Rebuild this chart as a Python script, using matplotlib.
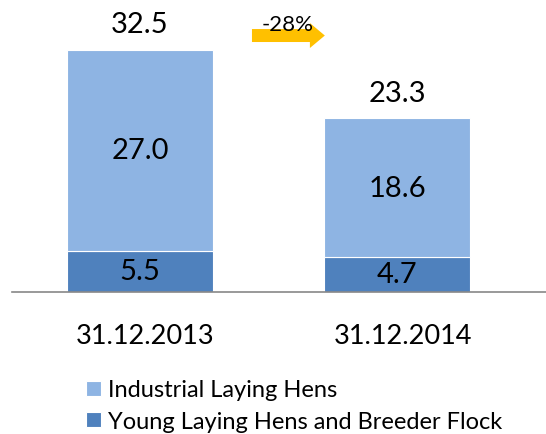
import matplotlib
matplotlib.use("Agg")
import matplotlib.pyplot as plt
from matplotlib.patches import FancyArrow

# ── data ──────────────────────────────────────────────────────────────────────
categories = ["31.12.2013", "31.12.2014"]
young      = [5.5, 4.7]     # Young Laying Hens and Breeder Flock
industrial = [27.0, 18.6]   # Industrial Laying Hens
totals     = [32.5, 23.3]
change_lbl = "-28%"

C_LIGHT = "#8EB4E3"
C_DARK  = "#4F81BD"
FONT    = ["Lato", "DejaVu Sans"]

plt.rcParams["font.family"] = FONT

fig = plt.figure(figsize=(5.46, 4.35), dpi=100)
ax = fig.add_axes([12 / 546, (435 - 293) / 435, 1 - 12 / 546, 293 / 435])

x = [0, 1]
w = 0.567
ax.bar(x, young, width=w, color=C_DARK, edgecolor="white", linewidth=0.8,
       label="Young Laying Hens and Breeder Flock")
ax.bar(x, industrial, width=w, bottom=young, color=C_LIGHT, edgecolor="white",
       linewidth=0.8, label="Industrial Laying Hens")

for xi, y, ind, tot in zip(x, young, industrial, totals):
    ax.text(xi, y / 2, f"{y:.1f}", ha="center", va="center", fontsize=21)
    ax.text(xi, y + ind / 2, f"{ind:.1f}", ha="center", va="center", fontsize=21)
    ax.text(xi, tot + 3.4, f"{tot:.1f}", ha="center", va="center", fontsize=21)

ax.set_xlim(-0.497, 1.577)
ax.set_ylim(0, 39.3)
ax.set_yticks([])
ax.set_xticks([])
for s in ["top", "right", "left"]:
    ax.spines[s].set_visible(False)
ax.spines["bottom"].set_color("#888888")
ax.spines["bottom"].set_linewidth(1.2)

for xi, cat in zip(x, categories):
    ax.text(xi + 0.02, -5.8, cat, ha="center", va="center", fontsize=19.5,
            clip_on=False)

# change arrow
arr = FancyArrow(0.435, 34.4, 0.283, 0, width=1.74, head_width=3.35,
                 head_length=0.058, length_includes_head=True,
                 color="#FFC000", linewidth=0)
ax.add_patch(arr)
ax.text(0.573, 34.6, change_lbl, ha="center", va="bottom", fontsize=16)

handles, labels = ax.get_legend_handles_labels()
fig.legend(handles[::-1], labels[::-1], loc="upper left",
           bbox_to_anchor=(77 / 546, 1 - 371 / 435), frameon=False,
           fontsize=17, handlelength=0.6, handleheight=0.6,
           handletextpad=0.3, labelspacing=0.45, borderaxespad=0)

fig.savefig("out.png", dpi=100)
